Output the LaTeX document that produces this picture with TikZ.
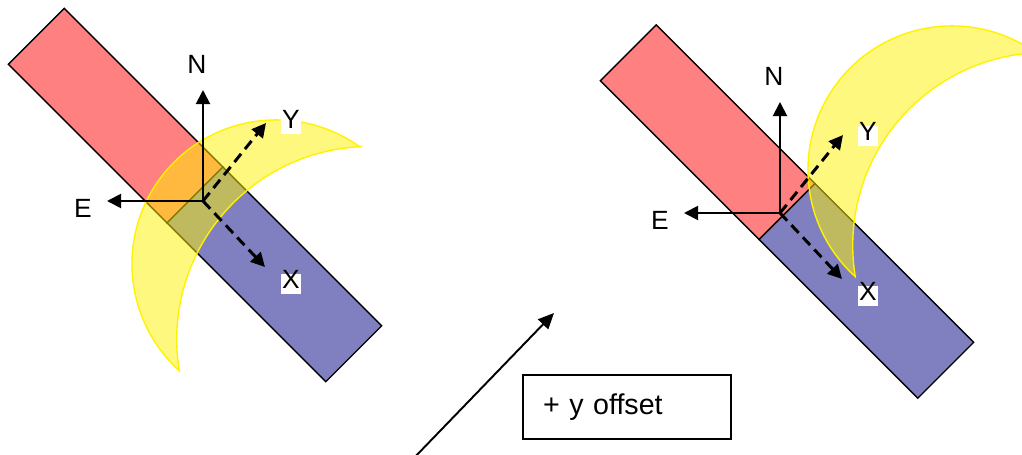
\documentclass[tikz,border=0pt]{standalone}
\usepackage{fontspec}
\setmainfont{Liberation Sans}
\usetikzlibrary{arrows.meta,positioning}
\definecolor{bodyred}{HTML}{FF8080}
\definecolor{bodyblue}{HTML}{8080C0}

\begin{document}
\begin{tikzpicture}[
  x=0.02cm, y=0.02cm,
  front/.style={draw=black, line width=0.8pt, fill=bodyred},
  rear/.style={draw=black, line width=0.8pt, fill=bodyblue},
  moon/.style={draw=yellow, line width=0.8pt, fill=yellow, fill opacity=0.5},
  axis/.style={-{Triangle[length=8pt,width=8pt]}, line width=1.1pt},
  bodyaxis/.style={-{Triangle[length=8pt,width=8pt]}, line width=1.7pt,
    dash pattern=on 6pt off 3.5pt},
  lbl/.style={font=\fontsize{15}{17}\selectfont, inner sep=0.5pt},
  tag/.style={lbl, fill=white, text height=0.75em, text depth=0.25em},
  note/.style={draw=black, line width=0.8pt, minimum width=4.16cm, minimum height=1.28cm,
    inner xsep=0.4cm, text width=3.36cm, align=left, font=\fontsize{16.3}{19}\selectfont},
  arr/.style={-{Triangle[length=9pt,width=8pt]}, line width=1.1pt},
]
  \useasboundingbox (0,0) rectangle (1022,454);
  \clip (0,0) rectangle (1022,454);

  % Left view
  \begin{scope}[shift={(195,259)}, rotate=-45]
    \draw[front] (-224.5,-39.5) rectangle (0,39.5);
    \draw[rear] (0,-39.5) rectangle (224.5,39.5);
  \end{scope}
  \begin{scope}[shift={(203,253)}]
    \draw[moon] (157,54) arc[start angle=54.3, end angle=227.8, radius=144]
      arc[start angle=189.3, end angle=92.7, radius=193] -- cycle;
    \coordinate (oL) at (0,0);
    \coordinate (nL) at (0,111);
    \coordinate (eL) at (-96,0);
    \coordinate (yL) at (63,78);
    \coordinate (xL) at (62,-66);
    \node[lbl] (nlabL) at (-6,137) {N};
    \node[lbl] (elabL) at (-120,-7) {E};
    \node[tag] (ylabL) at (88,77) {Y};
    \node[tag] (xlabL) at (88,-83) {X};
  \end{scope}
  \draw[axis] (oL) -- (nL);
  \draw[axis] (oL) -- (eL);
  \draw[bodyaxis] (oL) -- (yL);
  \draw[bodyaxis] (oL) -- (xL);

  % Right view
  \begin{scope}[shift={(787,242.5)}, rotate=-45]
    \draw[front] (-224.5,-39.5) rectangle (0,39.5);
    \draw[rear] (0,-39.5) rectangle (224.5,39.5);
  \end{scope}
  \begin{scope}[shift={(780,241)}]
    \draw[moon] (256,160) arc[start angle=54.3, end angle=227.8, radius=144]
      arc[start angle=189.3, end angle=92.7, radius=193] -- cycle;
    \coordinate (oR) at (0,0);
    \coordinate (nR) at (0,111);
    \coordinate (eR) at (-96,0);
    \coordinate (yR) at (63,78);
    \coordinate (xR) at (62,-66);
    \node[lbl] (nlabR) at (-6,137) {N};
    \node[lbl] (elabR) at (-120,-7) {E};
    \node[tag] (ylabR) at (88,77) {Y};
    \node[tag] (xlabR) at (88,-83) {X};
  \end{scope}
  \draw[axis] (oR) -- (nR);
  \draw[axis] (oR) -- (eR);
  \draw[bodyaxis] (oR) -- (yR);
  \draw[bodyaxis] (oR) -- (xR);

  % Offset
  \coordinate (shiftfrom) at (412,-6);
  \coordinate (shiftto) at (554,141);
  \draw[arr] (shiftfrom) -- (shiftto);
  \node[note] (offset) at (627,47) {+ y offset};
\end{tikzpicture}
\end{document}
